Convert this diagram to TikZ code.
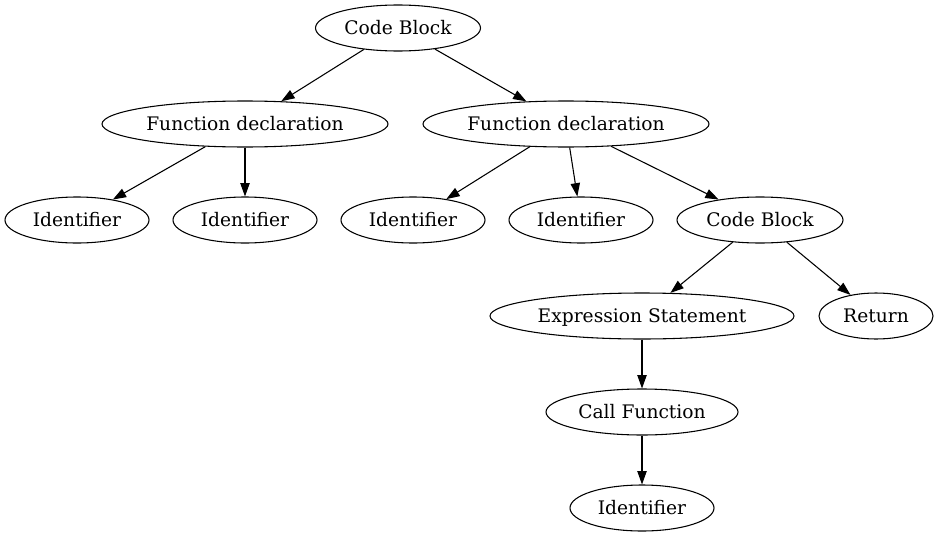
\documentclass[tikz,border=0pt]{standalone}
\usepackage{fontspec}
\setmainfont{DejaVu Serif}
\usetikzlibrary{shapes.geometric,arrows.meta}
\begin{document}
\begin{tikzpicture}[x=0.75pt,y=-0.75pt,
  nd/.style={ellipse,draw,line width=0.8pt,inner sep=0pt,minimum height=34.5pt,text height=10.5pt,text depth=1pt,font=\fontsize{14pt}{16pt}\selectfont},
  edge/.style={line width=0.8pt,-{Triangle[length=10pt,width=7pt]}}]
\useasboundingbox (0,0) rectangle (938,539);
\node[nd,minimum width=123.75pt] (cb1) at (398,28) {Code Block};
\node[nd,minimum width=214.5pt] (fd1) at (245,124) {Function declaration};
\node[nd,minimum width=214.5pt] (fd2) at (566,124) {Function declaration};
\node[nd,minimum width=108pt] (id1) at (77,220) {Identifier};
\node[nd,minimum width=108pt] (id2) at (245,220) {Identifier};
\node[nd,minimum width=108pt] (id3) at (413,220) {Identifier};
\node[nd,minimum width=108pt] (id4) at (581,220) {Identifier};
\node[nd,minimum width=124.5pt] (cb2) at (760,220) {Code Block};
\node[nd,minimum width=228pt] (es) at (642,316) {Expression Statement};
\node[nd,minimum width=85.5pt] (ret) at (876,316) {Return};
\node[nd,minimum width=144pt] (cf) at (642,412) {Call Function};
\node[nd,minimum width=108pt] (id5) at (642,508) {Identifier};
\draw[edge] (cb1) -- (fd1);
\draw[edge] (cb1) -- (fd2);
\draw[edge] (fd1) -- (id1);
\draw[edge] (fd1) -- (id2);
\draw[edge] (fd2) -- (id3);
\draw[edge] (fd2) -- (id4);
\draw[edge] (fd2) -- (cb2);
\draw[edge] (cb2) -- (es);
\draw[edge] (cb2) -- (ret);
\draw[edge] (es) -- (cf);
\draw[edge] (cf) -- (id5);
\end{tikzpicture}
\end{document}
